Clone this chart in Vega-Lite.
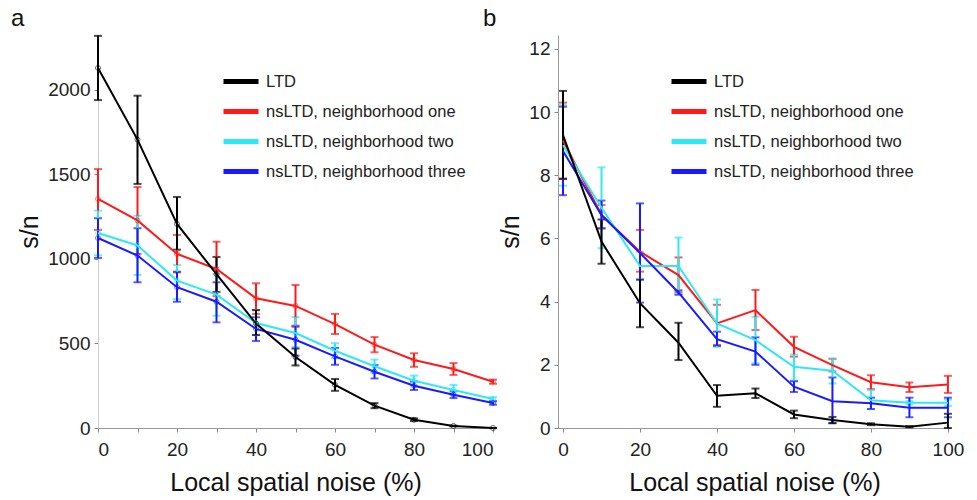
{
  "$schema": "https://vega.github.io/schema/vega-lite/v6.json",
  "background": "white",
  "padding": {"left": 11, "top": 6, "right": 5, "bottom": 5},
  "data": {"values": [
    {"panel":"a","series":"nsLTD, neighborhood one","x":0,"y":1355,"lo":1172,"hi":1532},
    {"panel":"a","series":"nsLTD, neighborhood one","x":10,"y":1228,"lo":1030,"hi":1426},
    {"panel":"a","series":"nsLTD, neighborhood one","x":20,"y":1030,"lo":920,"hi":1142},
    {"panel":"a","series":"nsLTD, neighborhood one","x":30,"y":941,"lo":780,"hi":1102},
    {"panel":"a","series":"nsLTD, neighborhood one","x":40,"y":767,"lo":675,"hi":856},
    {"panel":"a","series":"nsLTD, neighborhood one","x":50,"y":722,"lo":598,"hi":846},
    {"panel":"a","series":"nsLTD, neighborhood one","x":60,"y":615,"lo":556,"hi":675},
    {"panel":"a","series":"nsLTD, neighborhood one","x":70,"y":493,"lo":448,"hi":538},
    {"panel":"a","series":"nsLTD, neighborhood one","x":80,"y":402,"lo":362,"hi":442},
    {"panel":"a","series":"nsLTD, neighborhood one","x":90,"y":349,"lo":314,"hi":384},
    {"panel":"a","series":"nsLTD, neighborhood one","x":100,"y":274,"lo":262,"hi":286},
    {"panel":"a","series":"nsLTD, neighborhood two","x":0,"y":1154,"lo":1022,"hi":1286},
    {"panel":"a","series":"nsLTD, neighborhood two","x":10,"y":1080,"lo":905,"hi":1256},
    {"panel":"a","series":"nsLTD, neighborhood two","x":20,"y":872,"lo":763,"hi":964},
    {"panel":"a","series":"nsLTD, neighborhood two","x":30,"y":789,"lo":664,"hi":911},
    {"panel":"a","series":"nsLTD, neighborhood two","x":40,"y":621,"lo":550,"hi":695},
    {"panel":"a","series":"nsLTD, neighborhood two","x":50,"y":562,"lo":479,"hi":656},
    {"panel":"a","series":"nsLTD, neighborhood two","x":60,"y":457,"lo":412,"hi":502},
    {"panel":"a","series":"nsLTD, neighborhood two","x":70,"y":365,"lo":325,"hi":405},
    {"panel":"a","series":"nsLTD, neighborhood two","x":80,"y":280,"lo":250,"hi":310},
    {"panel":"a","series":"nsLTD, neighborhood two","x":90,"y":225,"lo":195,"hi":255},
    {"panel":"a","series":"nsLTD, neighborhood two","x":100,"y":172,"lo":162,"hi":182},
    {"panel":"a","series":"nsLTD, neighborhood three","x":0,"y":1124,"lo":1006,"hi":1241},
    {"panel":"a","series":"nsLTD, neighborhood three","x":10,"y":1020,"lo":862,"hi":1182},
    {"panel":"a","series":"nsLTD, neighborhood three","x":20,"y":833,"lo":747,"hi":925},
    {"panel":"a","series":"nsLTD, neighborhood three","x":30,"y":747,"lo":625,"hi":862},
    {"panel":"a","series":"nsLTD, neighborhood three","x":40,"y":586,"lo":515,"hi":655},
    {"panel":"a","series":"nsLTD, neighborhood three","x":50,"y":522,"lo":428,"hi":605},
    {"panel":"a","series":"nsLTD, neighborhood three","x":60,"y":424,"lo":374,"hi":474},
    {"panel":"a","series":"nsLTD, neighborhood three","x":70,"y":333,"lo":293,"hi":373},
    {"panel":"a","series":"nsLTD, neighborhood three","x":80,"y":250,"lo":225,"hi":275},
    {"panel":"a","series":"nsLTD, neighborhood three","x":90,"y":197,"lo":177,"hi":217},
    {"panel":"a","series":"nsLTD, neighborhood three","x":100,"y":148,"lo":138,"hi":158},
    {"panel":"a","series":"LTD","x":0,"y":2130,"lo":1940,"hi":2320},
    {"panel":"a","series":"LTD","x":10,"y":1706,"lo":1444,"hi":1966},
    {"panel":"a","series":"LTD","x":20,"y":1207,"lo":1055,"hi":1367},
    {"panel":"a","series":"LTD","x":30,"y":910,"lo":805,"hi":1012},
    {"panel":"a","series":"LTD","x":40,"y":618,"lo":550,"hi":698},
    {"panel":"a","series":"LTD","x":50,"y":420,"lo":370,"hi":470},
    {"panel":"a","series":"LTD","x":60,"y":255,"lo":220,"hi":290},
    {"panel":"a","series":"LTD","x":70,"y":132,"lo":117,"hi":147},
    {"panel":"a","series":"LTD","x":80,"y":49,"lo":41,"hi":57},
    {"panel":"a","series":"LTD","x":90,"y":12,"lo":10,"hi":14},
    {"panel":"a","series":"LTD","x":100,"y":0,"lo":0,"hi":0},
    {"panel":"b","series":"nsLTD, neighborhood one","x":0,"y":9.1,"lo":7.9,"hi":10.3},
    {"panel":"b","series":"nsLTD, neighborhood one","x":10,"y":6.74,"lo":6.32,"hi":7.06},
    {"panel":"b","series":"nsLTD, neighborhood one","x":20,"y":5.58,"lo":4.95,"hi":6.27},
    {"panel":"b","series":"nsLTD, neighborhood one","x":30,"y":4.84,"lo":4.3,"hi":5.4},
    {"panel":"b","series":"nsLTD, neighborhood one","x":40,"y":3.31,"lo":2.63,"hi":3.9},
    {"panel":"b","series":"nsLTD, neighborhood one","x":50,"y":3.73,"lo":3.1,"hi":4.37},
    {"panel":"b","series":"nsLTD, neighborhood one","x":60,"y":2.57,"lo":2.26,"hi":2.89},
    {"panel":"b","series":"nsLTD, neighborhood one","x":70,"y":1.99,"lo":1.79,"hi":2.19},
    {"panel":"b","series":"nsLTD, neighborhood one","x":80,"y":1.45,"lo":1.23,"hi":1.67},
    {"panel":"b","series":"nsLTD, neighborhood one","x":90,"y":1.29,"lo":1.14,"hi":1.44},
    {"panel":"b","series":"nsLTD, neighborhood one","x":100,"y":1.38,"lo":1.11,"hi":1.65},
    {"panel":"b","series":"nsLTD, neighborhood two","x":0,"y":8.95,"lo":7.67,"hi":10.22},
    {"panel":"b","series":"nsLTD, neighborhood two","x":10,"y":6.97,"lo":5.69,"hi":8.25},
    {"panel":"b","series":"nsLTD, neighborhood two","x":20,"y":5.13,"lo":4.68,"hi":5.58},
    {"panel":"b","series":"nsLTD, neighborhood two","x":30,"y":5.13,"lo":4.23,"hi":6.03},
    {"panel":"b","series":"nsLTD, neighborhood two","x":40,"y":3.31,"lo":2.57,"hi":4.07},
    {"panel":"b","series":"nsLTD, neighborhood two","x":50,"y":2.78,"lo":2.05,"hi":3.52},
    {"panel":"b","series":"nsLTD, neighborhood two","x":60,"y":1.94,"lo":1.5,"hi":2.33},
    {"panel":"b","series":"nsLTD, neighborhood two","x":70,"y":1.81,"lo":1.41,"hi":2.2},
    {"panel":"b","series":"nsLTD, neighborhood two","x":80,"y":0.88,"lo":0.6,"hi":1.2},
    {"panel":"b","series":"nsLTD, neighborhood two","x":90,"y":0.8,"lo":0.75,"hi":0.85},
    {"panel":"b","series":"nsLTD, neighborhood two","x":100,"y":0.8,"lo":0.7,"hi":0.9},
    {"panel":"b","series":"nsLTD, neighborhood three","x":0,"y":8.77,"lo":7.37,"hi":10.17},
    {"panel":"b","series":"nsLTD, neighborhood three","x":10,"y":6.74,"lo":6.32,"hi":7.2},
    {"panel":"b","series":"nsLTD, neighborhood three","x":20,"y":5.54,"lo":3.97,"hi":7.11},
    {"panel":"b","series":"nsLTD, neighborhood three","x":30,"y":4.29,"lo":4.22,"hi":4.36},
    {"panel":"b","series":"nsLTD, neighborhood three","x":40,"y":2.81,"lo":2.6,"hi":3.05},
    {"panel":"b","series":"nsLTD, neighborhood three","x":50,"y":2.42,"lo":2.0,"hi":2.87},
    {"panel":"b","series":"nsLTD, neighborhood three","x":60,"y":1.31,"lo":1.14,"hi":1.48},
    {"panel":"b","series":"nsLTD, neighborhood three","x":70,"y":0.85,"lo":0.16,"hi":1.6},
    {"panel":"b","series":"nsLTD, neighborhood three","x":80,"y":0.78,"lo":0.6,"hi":0.96},
    {"panel":"b","series":"nsLTD, neighborhood three","x":90,"y":0.64,"lo":0.34,"hi":0.96},
    {"panel":"b","series":"nsLTD, neighborhood three","x":100,"y":0.64,"lo":0.34,"hi":0.96},
    {"panel":"b","series":"LTD","x":0,"y":9.27,"lo":7.88,"hi":10.67},
    {"panel":"b","series":"LTD","x":10,"y":5.9,"lo":5.2,"hi":6.6},
    {"panel":"b","series":"LTD","x":20,"y":3.95,"lo":3.19,"hi":4.7},
    {"panel":"b","series":"LTD","x":30,"y":2.7,"lo":2.15,"hi":3.33},
    {"panel":"b","series":"LTD","x":40,"y":1.02,"lo":0.67,"hi":1.36},
    {"panel":"b","series":"LTD","x":50,"y":1.1,"lo":0.95,"hi":1.25},
    {"panel":"b","series":"LTD","x":60,"y":0.43,"lo":0.31,"hi":0.55},
    {"panel":"b","series":"LTD","x":70,"y":0.25,"lo":0.15,"hi":0.35},
    {"panel":"b","series":"LTD","x":80,"y":0.12,"lo":0.09,"hi":0.15},
    {"panel":"b","series":"LTD","x":90,"y":0.04,"lo":0.02,"hi":0.06},
    {"panel":"b","series":"LTD","x":100,"y":0.17,"lo":0.0,"hi":0.45}
  ]},
  "spacing": 65,
  "bounds": "flush",
  "resolve": {"legend": {"color": "independent"}},
  "hconcat": [
    {
      "width": 395,
      "height": 393,
      "title": {"text": "a", "anchor": "start", "frame": "group", "dx": -87, "offset": 4},
      "transform": [{"filter": "datum.panel == 'a'"}],
      "encoding": {
        "x": {"field": "x", "type": "quantitative",
              "scale": {"domain": [0, 100], "nice": false, "zero": false},
              "axis": {"title": "Local spatial noise (%)", "values": [0,10,20,30,40,50,60,70,80,90,100],
                       "labelExpr": "datum.value % 20 == 0 ? datum.label : ''"}},
        "color": {"field": "series", "type": "nominal",
                  "scale": {"domain": ["LTD","nsLTD, neighborhood one","nsLTD, neighborhood two","nsLTD, neighborhood three"],
                            "range": ["#000000","#ff1a1a","#2ee9f5","#1a1aff"]},
                  "legend": {"orient": "none", "legendX": 123, "legendY": 26.5,
                             "encode": {"symbols": {"update": {"stroke": {"signal": "datum.value == 'LTD' ? '#111111' : datum.value == 'nsLTD, neighborhood one' ? '#ed1c24' : datum.value == 'nsLTD, neighborhood two' ? '#00b9f2' : '#2e3192'"}}}}}}
      },
      "layer": [
        {"mark": {"type": "errorbar", "ticks": {"size": 8}, "thickness": 2},
         "encoding": {"y": {"field": "lo", "type": "quantitative", "scale": {"domain": [0, 2325], "nice": false},
                            "axis": {"title": "s/n", "values": [0,500,1000,1500,2000], "format": "d", "domainColor": "#cccccc"}},
                      "y2": {"field": "hi"}}},
        {"mark": {"type": "line", "strokeWidth": 2},
         "encoding": {"y": {"field": "y", "type": "quantitative", "scale": {"domain": [0, 2325], "nice": false},
                            "axis": {"title": "s/n", "values": [0,500,1000,1500,2000], "format": "d", "domainColor": "#cccccc"}}}},
        {"mark": {"type": "point", "filled": false, "size": 25, "strokeWidth": 1, "opacity": 0.6},
         "encoding": {"y": {"field": "y", "type": "quantitative", "scale": {"domain": [0, 2325], "nice": false},
                            "axis": {"title": "s/n", "values": [0,500,1000,1500,2000], "format": "d", "domainColor": "#cccccc"}}}}
      ]
    },
    {
      "width": 393,
      "height": 393,
      "title": {"text": "b", "anchor": "start", "frame": "group", "dx": -75, "offset": 4},
      "transform": [{"filter": "datum.panel == 'b'"}],
      "encoding": {
        "x": {"field": "x", "type": "quantitative",
              "scale": {"domain": [-1.3, 100.8], "nice": false, "zero": false},
              "axis": {"title": "Local spatial noise (%)", "values": [0,20,40,60,80,100]}},
        "color": {"field": "series", "type": "nominal",
                  "scale": {"domain": ["LTD","nsLTD, neighborhood one","nsLTD, neighborhood two","nsLTD, neighborhood three"],
                            "range": ["#000000","#ff1a1a","#2ee9f5","#1a1aff"]},
                  "legend": {"orient": "none", "legendX": 111, "legendY": 26.5,
                             "encode": {"symbols": {"update": {"stroke": {"signal": "datum.value == 'LTD' ? '#111111' : datum.value == 'nsLTD, neighborhood one' ? '#ed1c24' : datum.value == 'nsLTD, neighborhood two' ? '#00b9f2' : '#2e3192'"}}}}}}
      },
      "layer": [
        {"mark": {"type": "errorbar", "ticks": {"size": 8}, "thickness": 2},
         "encoding": {"y": {"field": "lo", "type": "quantitative", "scale": {"domain": [0, 12.44], "nice": false},
                            "axis": {"title": "s/n", "values": [0,2,4,6,8,10,12]}},
                      "y2": {"field": "hi"}}},
        {"mark": {"type": "line", "strokeWidth": 2},
         "encoding": {"y": {"field": "y", "type": "quantitative", "scale": {"domain": [0, 12.44], "nice": false},
                            "axis": {"title": "s/n", "values": [0,2,4,6,8,10,12]}}}}
      ]
    }
  ],
  "config": {
    "view": {"stroke": null},
    "font": "Liberation Sans",
    "title": {"fontSize": 24, "fontWeight": "normal", "font": "Liberation Sans", "color": "#111111"},
    "axis": {"grid": false, "domainColor": "#999999", "tickColor": "#888888", "tickSize": 4,
             "labelFont": "Liberation Sans", "labelFontSize": 19, "labelColor": "#222222",
             "titleFont": "Liberation Sans", "titleFontSize": 25, "titleFontWeight": "normal", "titleColor": "#111111"},
    "axisX": {"labelPadding": 8, "titlePadding": 11},
    "axisY": {"labelPadding": 4, "titlePadding": 5},
    "legend": {"title": null, "symbolType": "stroke", "symbolSize": 1225, "symbolStrokeWidth": 5, "symbolOpacity": 1,
               "rowPadding": -3, "labelOffset": 5, "padding": 0, "labelLimit": 400,
               "labelFont": "Liberation Sans", "labelFontSize": 16.5, "labelColor": "#222222",
               "labelExpr": "datum.label == 'LTD' ? datum.label : '\u00a0\u00a0' + datum.label"}
  }
}
